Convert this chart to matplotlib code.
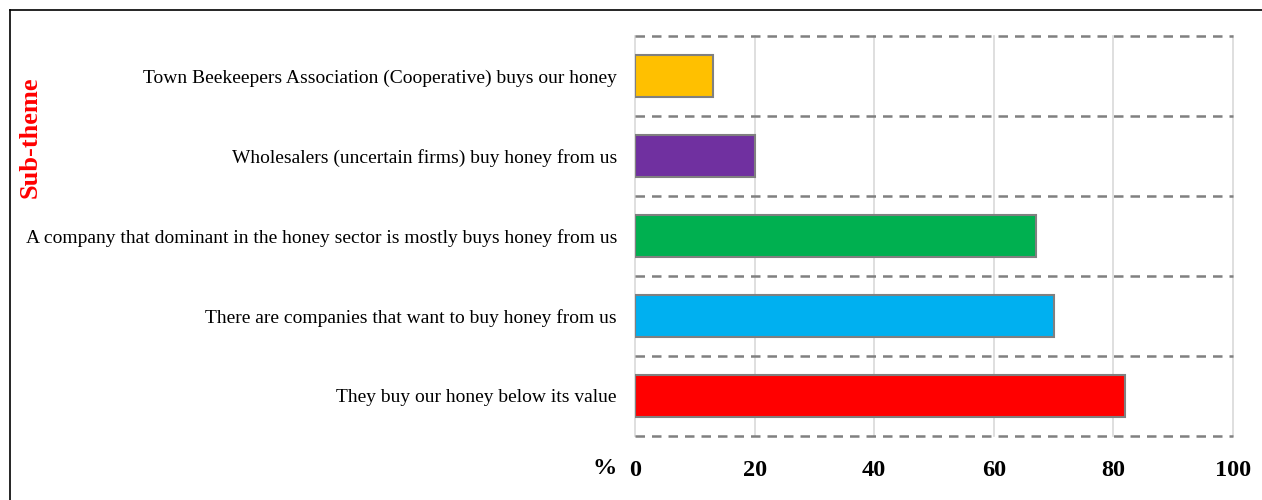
import matplotlib.pyplot as plt
from matplotlib.lines import Line2D
import numpy as np

categories = [
    "Town Beekeepers Association (Cooperative) buys our honey",
    "Wholesalers (uncertain firms) buy honey from us",
    "A company that dominant in the honey sector is mostly buys honey from us",
    "There are companies that want to buy honey from us",
    "They buy our honey below its value",
]
values = [13, 20, 67, 70, 82]
colors = ["#ffc000", "#7030a0", "#00b050", "#00b0f0", "#ff0000"]
xticks = [0, 20, 40, 60, 80, 100]

plt.rcParams['font.family'] = ['Liberation Serif', 'DejaVu Serif']

fig = plt.figure(figsize=(12.62, 5.0), dpi=100)
ax = fig.add_axes([635 / 1262, 64 / 500, 598 / 1262, 400 / 500])

y = np.arange(len(categories))
ax.barh(y, values, height=0.53, color=colors, edgecolor="#808080", linewidth=1.5, zorder=3)
ax.set_ylim(len(categories) - 0.5, -0.5)
ax.set_xlim(0, 100)

# vertical grid
for xv in xticks:
    ax.axvline(xv, color="#d9d9d9", linewidth=1.2, zorder=1, clip_on=False)
# dashed separators between categories
for b in np.arange(len(categories) + 1) - 0.5:
    ax.axhline(b, color="#808080", linewidth=1.8, linestyle=(0, (3.8, 2.8)), zorder=2, clip_on=False)

for s in ax.spines.values():
    s.set_visible(False)

ax.set_yticks(y)
ax.set_yticklabels(categories, fontsize=14)
ax.set_xticks(xticks)
ax.set_xticklabels([str(v) for v in xticks], fontsize=17.5, fontweight="bold")
ax.tick_params(axis="both", length=0)
ax.tick_params(axis="y", pad=13)
ax.tick_params(axis="x", pad=17)

fig.text(605 / 1262, 1 - 468 / 500, "%", fontsize=17.5, fontweight="bold", ha="center", va="center")
fig.text(30 / 1262, 1 - 137 / 500, "Sub-theme", fontsize=19, fontweight="bold", color="red",
         rotation=90, ha="center", va="center")

# frame around figure
fig.add_artist(Line2D([10 / 1262, 10 / 1262], [0, 1 - 10 / 500], transform=fig.transFigure, color="black", linewidth=1.2))
fig.add_artist(Line2D([10 / 1262, 1], [1 - 10 / 500, 1 - 10 / 500], transform=fig.transFigure, color="black", linewidth=1.2))

fig.savefig("out.png", dpi=100)
